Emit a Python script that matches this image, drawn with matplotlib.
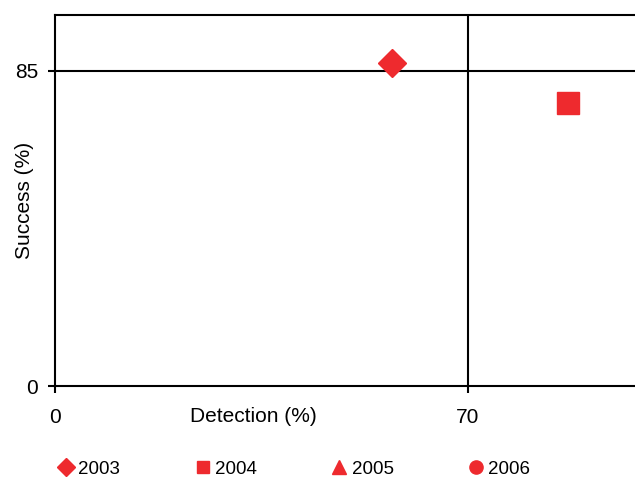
import matplotlib.pyplot as plt
from matplotlib.lines import Line2D

# data
years = ["2003", "2004", "2005", "2006"]
markers = ["D", "s", "^", "o"]
detection = [57.1, 86.9, None, None]
success = [87.1, 76.4, None, None]
x_ticks = [0, 70]
y_ticks = [0, 85]

red = "#ee2a2e"
plt.rcParams['font.family'] = ['Liberation Sans', 'DejaVu Sans']
plt.rcParams['font.size'] = 15

fig = plt.figure(figsize=(6.35, 4.8), dpi=100)
ax = fig.add_axes([55 / 635, 1 - 386 / 480, 590 / 635, 371 / 480])

sizes = [14, 15.5, 13, 13]
for yr, m, xv, yv, ms in zip(years, markers, detection, success, sizes):
    if xv is not None:
        ax.plot([xv], [yv], linestyle='none', marker=m, markersize=ms,
                color=red, zorder=3)

ax.axvline(70, color='black', lw=1.5, zorder=2)
ax.axhline(85, color='black', lw=1.5, zorder=2)

ax.set_xlim(0, 100)
ax.set_ylim(0, 100)
ax.set_xticks(x_ticks)
ax.set_yticks(y_ticks)
ax.tick_params(axis='x', direction='out', length=5, width=1.5, pad=11)
ax.tick_params(axis='y', direction='out', length=5, width=1.5, pad=7)
for s in ['left', 'bottom', 'top']:
    ax.spines[s].set_linewidth(1.5)
ax.spines['right'].set_visible(False)

ax.set_ylabel("Success (%)")
ax.yaxis.set_label_coords(-0.036, 0.5)
ax.set_xlabel("Detection (%)")
ax.xaxis.set_label_coords(0.336, -0.081)
ax.xaxis.label.set_verticalalignment('center')

handles = [Line2D([], [], linestyle='none', marker=m, color=red, markersize=9.5)
           for m in markers]
handles[0].set_markersize(9)
handles[1].set_markersize(9)
fig.legend(handles, years, loc='center', bbox_to_anchor=(295 / 635, 1 - 469 / 480),
           ncol=4, frameon=False, handlelength=0.7, handletextpad=0.3,
           columnspacing=4.05, fontsize=13.5)

fig.savefig("out.png", dpi=100)
